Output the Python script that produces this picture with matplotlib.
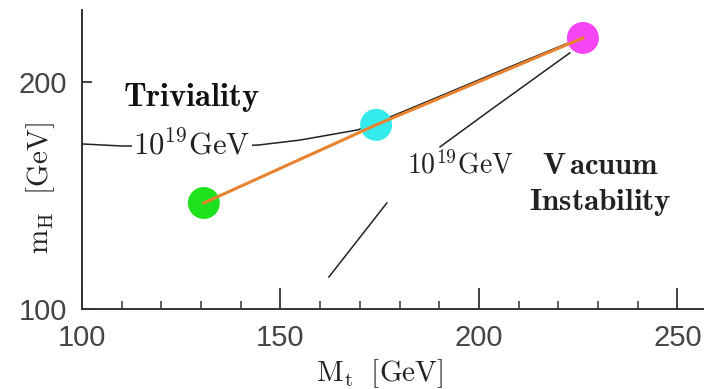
import matplotlib
matplotlib.use("Agg")
import matplotlib.pyplot as plt
import numpy as np
from matplotlib.ticker import MultipleLocator, FixedLocator

plt.rcParams['mathtext.fontset'] = 'cm'

# top mass / higgs mass of the three marked points
mt_points = [130.7, 174.1, 226.2]
mh_points = [146.7, 181.1, 219.4]
point_colors = ['#1ee21e', '#35eaea', '#f545f5']

# triviality bound (10^19 GeV)
triv_mt = [100, 110, 125, 144.3, 154.9, 169.5, 174.1, 190, 208, 224.5]
triv_mh = [172.7, 171.8, 171.6, 172.2, 174.4, 178.9, 182.0, 193.6, 206.8, 218.6]

# vacuum stability bound (10^19 GeV), drawn with a gap
vac_mt = [162.2, 176.8, np.nan, 190.2, 202.8, 222.9]
vac_mh = [114.1, 146.7, np.nan, 171.4, 187.5, 212.8]

x_ticks = [100, 150, 200, 250]
y_ticks = [100, 200]

fig = plt.figure(figsize=(7.04, 3.89), dpi=100)
ax = fig.add_axes([82/704, 80/389, 622/704, 299/389])

ax.plot(triv_mt, triv_mh, color='#222222', lw=1.1, zorder=2)
ax.plot(vac_mt, vac_mh, color='#222222', lw=1.1, zorder=2)
ax.scatter(mt_points, mh_points, s=23**2, c=point_colors, zorder=3, linewidths=0)
ax.plot(mt_points, mh_points, color='#e8822e', lw=2.2, zorder=4)

ax.set_xlim(100, 256.7)
ax.set_ylim(100, 231.7)

for s in ['top', 'right']:
    ax.spines[s].set_visible(False)
for s in ['left', 'bottom']:
    ax.spines[s].set_color('#333333')
    ax.spines[s].set_linewidth(1.4)

ax.xaxis.set_major_locator(FixedLocator(x_ticks))
ax.xaxis.set_minor_locator(MultipleLocator(10))
ax.yaxis.set_major_locator(FixedLocator(y_ticks))
ax.tick_params(axis='x', which='major', direction='in', length=15, width=1.3,
               color='#333333', pad=11, labelsize=21, labelcolor='#444444')
ax.tick_params(axis='x', which='minor', direction='in', length=6, width=1.1,
               color='#333333')
ax.tick_params(axis='y', which='major', direction='in', length=7, width=1.3,
               color='#333333', pad=11, labelsize=21, labelcolor='#444444')
for lab in ax.get_xticklabels() + ax.get_yticklabels():
    lab.set_family('Liberation Sans')

ax.set_xlabel(r'$\mathrm{M_t\ \ [GeV]}$', fontsize=21, color='#222222')
ax.xaxis.set_label_coords(0.479, -0.16)
ax.set_ylabel(r'$\mathrm{m_H\ \ [GeV]}$', fontsize=21, color='#222222')
ax.yaxis.set_label_coords(-0.04, 0.405)

ax.text(127.7, 193, r'$\mathbf{Triviality}$', fontsize=23.5, ha='center', va='center',
        color='#111111')
ax.text(127.7, 172.2, r'$\mathrm{10^{19}GeV}$', fontsize=22, ha='center', va='center',
        color='#222222', zorder=5,
        bbox=dict(facecolor='white', edgecolor='none', pad=1))
ax.text(195.2, 163.5, r'$\mathrm{10^{19}GeV}$', fontsize=20, ha='center', va='center',
        color='#222222')
ax.text(230.7, 163.4, r'$\mathbf{V\,acuum}$', fontsize=22, ha='center', va='center',
        color='#222222')
ax.text(230.5, 147.1, r'$\mathbf{Instability}$', fontsize=22.5, ha='center', va='center',
        color='#222222')

fig.savefig('out.png', dpi=100)
